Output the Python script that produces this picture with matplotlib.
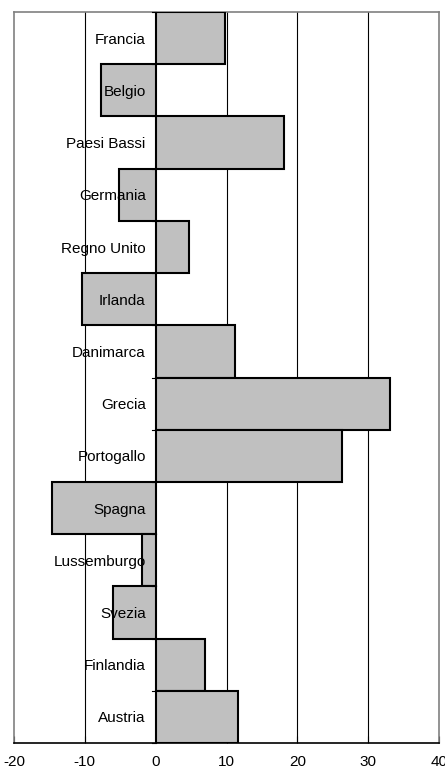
import matplotlib.pyplot as plt

countries = ["Francia", "Belgio", "Paesi Bassi", "Germania", "Regno Unito",
             "Irlanda", "Danimarca", "Grecia", "Portogallo", "Spagna",
             "Lussemburgo", "Svezia", "Finlandia", "Austria"]
values = [9.8, -7.7, 18.1, -5.2, 4.7, -10.4, 11.2, 33.1, 26.3, -14.6,
          -1.9, -6.0, 7.0, 11.6]
xticks = [-20, -10, 0, 10, 20, 30, 40]

plt.rcParams["font.family"] = ["Liberation Sans", "DejaVu Sans"]

W, H = 445, 769
fig = plt.figure(figsize=(W / 100, H / 100), dpi=100)
ax = fig.add_axes([14 / W, (H - 743) / H, (439 - 14) / W, (743 - 12) / H])

pos = list(range(len(countries)))
ax.barh(pos, values, height=1.0, color="#c0c0c0", edgecolor="black",
        linewidth=1.5, zorder=3)

ax.set_xlim(-20, 40)
ax.set_ylim(len(countries) - 0.5, -0.5)
ax.set_xticks(xticks)
ax.set_xticklabels([str(t) for t in xticks], fontsize=11)
ax.tick_params(axis="x", length=5, direction="in", pad=9, color="black")
ax.set_yticks([])

for x in xticks[1:-1]:
    if x != 0:
        ax.axvline(x, color="black", linewidth=0.8, zorder=1)
ax.axvline(0, color="black", linewidth=1.2, zorder=4)

# small ticks on the zero axis between categories
for b in range(len(countries) + 1):
    ax.plot([-0.45, 0], [b - 0.5, b - 0.5], color="black", linewidth=0.8,
            zorder=4, clip_on=False)

for i, name in enumerate(countries):
    ax.text(-1.4, i + 0.03, name, ha="right", va="center", fontsize=11,
            zorder=5)

for side in ["left", "right", "top"]:
    ax.spines[side].set_color("#808080")
    ax.spines[side].set_linewidth(1.2)
ax.spines["bottom"].set_color("black")
ax.spines["bottom"].set_linewidth(1.2)

fig.savefig("out.png", dpi=100)
